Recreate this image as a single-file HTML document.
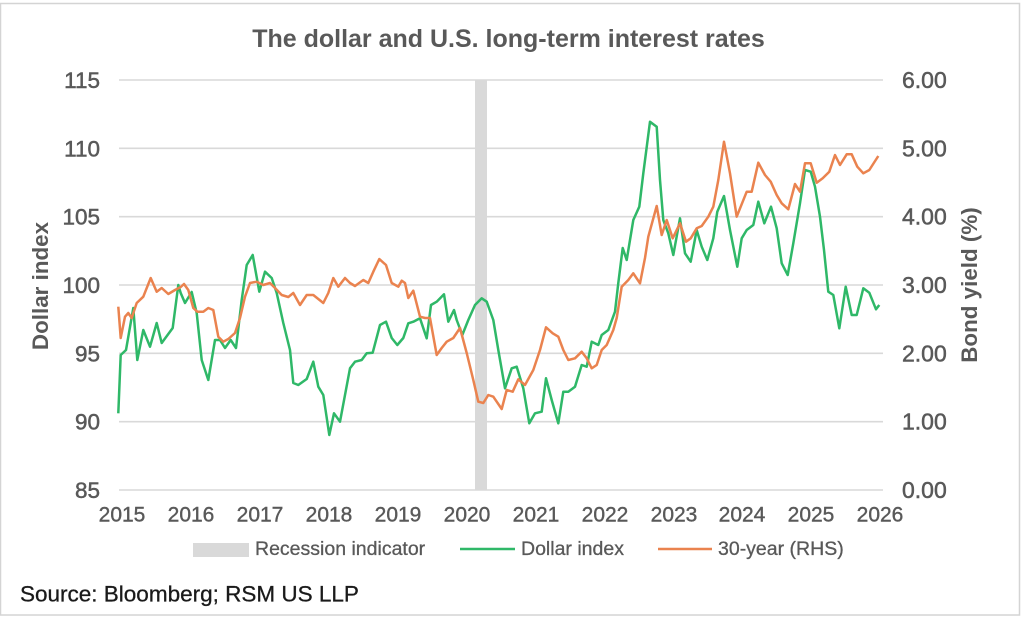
<!DOCTYPE html>
<html><head><meta charset="utf-8"><style>
html,body{margin:0;padding:0;background:#fff;}
svg{display:block;}
text{font-family:"Liberation Sans",Arial,sans-serif;}
</style></head><body>
<svg width="1031" height="622" viewBox="0 0 1031 622" xmlns="http://www.w3.org/2000/svg">
<rect x="0" y="0" width="1031" height="622" fill="#fff"/>
<rect x="0.5" y="3.5" width="1019" height="611.5" fill="#fff" stroke="#d4d4d4" stroke-width="1.5"/>
<text x="508.5" y="47" text-anchor="middle" font-size="25" font-weight="bold" fill="#595959">The dollar and U.S. long-term interest rates</text>
<g stroke="#d9d9d9" stroke-width="1.6">
<line x1="119" y1="80" x2="883" y2="80"/>
<line x1="119" y1="148.3" x2="883" y2="148.3"/>
<line x1="119" y1="216.7" x2="883" y2="216.7"/>
<line x1="119" y1="285" x2="883" y2="285"/>
<line x1="119" y1="353.3" x2="883" y2="353.3"/>
<line x1="119" y1="421.7" x2="883" y2="421.7"/>
<line x1="119" y1="490" x2="883" y2="490"/>
</g>
<rect x="475" y="80" width="12" height="410" fill="#d9d9d9"/>
<g font-size="22.5" fill="#595959" stroke="#595959" stroke-width="0.5" text-anchor="end">
<text x="100" y="88">115</text>
<text x="100" y="156.3">110</text>
<text x="100" y="224.7">105</text>
<text x="100" y="293">100</text>
<text x="100" y="361.3">95</text>
<text x="100" y="429.7">90</text>
<text x="100" y="498">85</text>
</g>
<g font-size="23" fill="#595959" stroke="#595959" stroke-width="0.5">
<text x="902" y="88">6.00</text>
<text x="902" y="156.3">5.00</text>
<text x="902" y="224.7">4.00</text>
<text x="902" y="293">3.00</text>
<text x="902" y="361.3">2.00</text>
<text x="902" y="429.7">1.00</text>
<text x="902" y="498">0.00</text>
</g>
<g font-size="21" fill="#595959" stroke="#595959" stroke-width="0.4" text-anchor="middle">
<text x="122" y="521.5">2015</text>
<text x="191" y="521.5">2016</text>
<text x="260" y="521.5">2017</text>
<text x="329" y="521.5">2018</text>
<text x="398" y="521.5">2019</text>
<text x="467" y="521.5">2020</text>
<text x="536" y="521.5">2021</text>
<text x="605" y="521.5">2022</text>
<text x="674" y="521.5">2023</text>
<text x="742" y="521.5">2024</text>
<text x="811" y="521.5">2025</text>
<text x="880" y="521.5">2026</text>
</g>
<text transform="translate(48,286) rotate(-90)" text-anchor="middle" font-size="22.4" font-weight="bold" fill="#595959">Dollar index</text>
<text transform="translate(977,285) rotate(-90)" text-anchor="middle" font-size="22.4" font-weight="bold" fill="#595959">Bond yield (%)</text>
<polyline fill="none" stroke="#2fb868" stroke-width="2.5" stroke-linejoin="round" points="118.3,413.3 120.7,355 126,350 133.3,308 137.3,360 143.3,330 150,346.7 156.7,323 161.7,343 172.7,328 178.3,285 180.7,293 185,303 191.7,292 196.7,313 201.7,360 208.3,380 215,340 220,340 225,348 230.7,340 236,348 241.7,300 246.7,265 252.7,255 259.3,291.7 265,271.7 271.7,278 276.7,293 283.3,323 290,350 293.3,383 298.3,385 306.7,379 313.3,361.7 318.3,386.7 323.3,395 329.3,435 334,413.3 340,421.7 350,368.3 355,361.7 361.7,360 366.7,353.3 372.7,352.7 380,325 386,321.7 391.7,338 397.3,345 403.3,338 408.3,323.3 413.3,321.7 420,318.3 426.7,338.3 431,305 436.7,301.7 444,294.3 448.3,321.7 454,310 456.7,320 462.3,335 468.3,320 475,305 481.7,298.3 486.7,301.7 493.3,320 498.3,350 505,388.3 511.7,368.3 516.7,366.7 523.3,388.3 529.3,423.3 535,413.3 541.7,411.7 546,378.3 551.7,400 558.3,423.3 563.3,391.7 568.3,391.7 575,386.7 581.7,365 586.7,366.7 591.7,341.7 598.3,345 601.7,335 608.3,330 615,311.7 618.3,283 622.7,248 626.7,260 633.3,220 639.3,206.7 643.3,173.3 650,121.7 656.7,126.7 660,180 663.3,220 668.3,233.3 673.3,255 680,218.3 685,253.3 690.7,261.7 696.7,230 701.7,246.7 707.3,260 713.3,238.3 717.3,211.7 724,196 730,230 737.3,266.7 741.7,238.3 746.7,230 753.3,225 758.3,201.7 764.3,223.3 771,206.7 776.7,228.3 781.7,263.3 787.7,275 793.3,243.3 800,203.3 805,170 810.7,171.7 815,186.7 820,216.7 824,250 828.3,291.7 833.3,295 839.3,328.3 845.7,286.7 851.7,315 856.7,315 863.3,288.3 869.3,292.7 876,309.3 879.3,305"/>
<polyline fill="none" stroke="#ea834f" stroke-width="2.5" stroke-linejoin="round" points="118.3,306.7 120.7,338 125,316.7 128.3,313 131.7,318 136.7,303 143.3,296.7 150.7,278 156.7,291.7 161.7,288 168.3,294 175,290 180.7,287 184,284 188.3,290 193.3,308 197.3,311.7 203.3,311.7 208.3,308 213.3,310 218.3,336.7 223.3,341.7 228.3,339 235,333 240,318 245,296.7 250,283 256.7,281.7 263.3,285 270,283 275,288 281.7,295 288.3,297 293.3,293 300,305 306.7,295 313.3,295 323.3,303 328.3,293 333.3,278 338.3,286.7 345,278 350,283 355,286 363.3,280 368.3,283 373.3,271.7 379.3,259 386,265 391.7,283 398.3,286.7 401.7,280.7 405,283 408.3,298 413.3,290.7 420,316.7 425,318 430,318 436.7,355 441.7,348 446.7,341.7 453.3,338 460,328 466.7,353 473.3,380 478.3,401.7 483.3,403 488.3,395 493.3,396.7 501.7,409 506.7,390 512.7,391.7 518.3,379.3 525,385 533.3,370 540,350 546,327.3 552.7,333.3 558.3,336.7 563.3,350 568.3,360 575,358.3 581.7,351.7 586.7,358.3 591.7,368.3 596.7,365 601.7,350 606.7,345 613.3,330 616.7,318 621.7,286.7 628.3,280 633.3,273.3 640,283.3 645,258 648.3,236.7 656.7,206 661.7,235 666.7,220 672.7,238.3 680,223.3 686,241.7 690.7,238.3 696.7,228.3 701.7,226 708.3,216.7 713.3,206.7 718.3,180 724,141.7 730,173.3 736.7,216.7 746.7,191.7 751.7,191.7 758.3,162.7 765,175 770.7,181.7 776.7,195 781.7,203.3 788.3,209.3 795,184 800,191.7 805,163.3 810.7,163.3 816.7,182.7 822.7,178.3 829.3,171.7 835,155 840,165 846.7,154.3 851.7,154.3 857.3,166.7 863.3,173.3 869.3,170 878.3,156"/>
<rect x="193" y="543" width="56" height="14" fill="#d9d9d9"/>
<g font-size="19.5" fill="#595959" stroke="#595959" stroke-width="0.3">
<text x="255" y="555">Recession indicator</text>
<text x="521" y="555">Dollar index</text>
<text x="718" y="555">30-year (RHS)</text>
</g>
<line x1="460" y1="549" x2="515" y2="549" stroke="#2fb868" stroke-width="2.5"/>
<line x1="658" y1="549" x2="712" y2="549" stroke="#ea834f" stroke-width="2.5"/>
<text x="20" y="601.5" font-size="22.5" fill="#1a1a1a" stroke="#1a1a1a" stroke-width="0.3">Source: Bloomberg; RSM US LLP</text>
</svg>
</body></html>
